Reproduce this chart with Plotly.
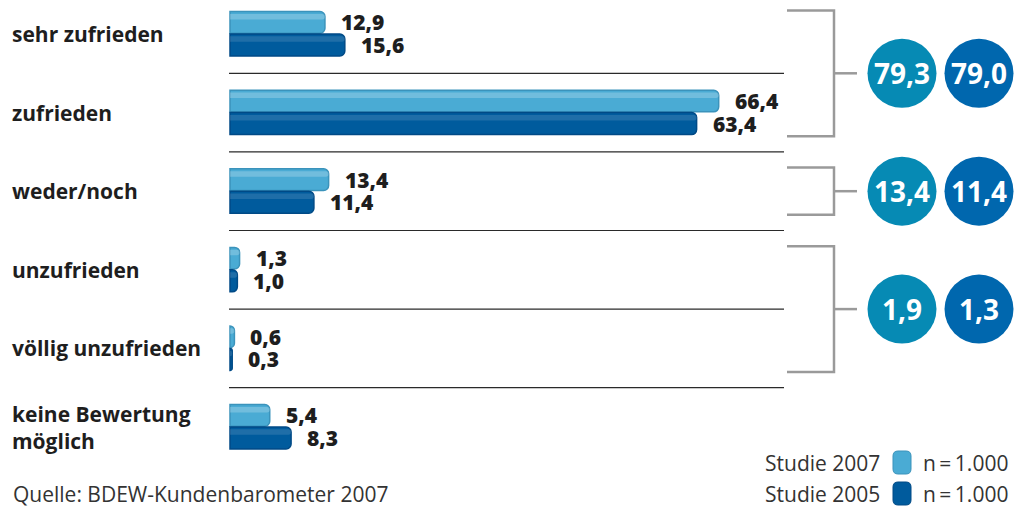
import plotly.graph_objects as go

# ---- data ----
categories = ["sehr zufrieden", "zufrieden", "weder/noch", "unzufrieden",
              "völlig unzufrieden", "keine Bewertung<br>möglich"]
studie_2007 = [12.9, 66.4, 13.4, 1.3, 0.6, 5.4]
studie_2005 = [15.6, 63.4, 11.4, 1.0, 0.3, 8.3]
group_rows = [(0, 1), (2, 2), (3, 4)]
group_2007 = [79.3, 13.4, 1.9]
group_2005 = [79.0, 11.4, 1.3]
legend_labels = ["Studie 2007", "Studie 2005"]
legend_n = ["n\u2009=\u20091.000", "n\u2009=\u20091.000"]
source_text = "Quelle: BDEW-Kundenbarometer 2007"

# ---- style ----
W, H = 1015, 508
FONT = "Open Sans"
C07, C05 = "#4aabd4", "#005b9d"
C07_EDGE, C05_EDGE = "#3b93bb", "#004a86"
CIRC07, CIRC05 = "#068ab4", "#0067ae"
TXT = "#1e1e1e"


def de(v):
    return f"{v:.1f}".replace(".", ",")


def px(x):
    return x / W


def py(y):
    return 1 - y / H


idx = list(range(len(categories)))
fig = go.Figure()

fig.add_trace(go.Bar(orientation="h", y=idx, x=studie_2007, width=0.275, offset=-0.285,
                     marker=dict(color=C07, cornerradius=5, line=dict(color=C07_EDGE, width=1.5)),
                     hoverinfo="skip", showlegend=False))
fig.add_trace(go.Bar(orientation="h", y=idx, x=studie_2005, width=0.28, offset=0.0,
                     marker=dict(color=C05, cornerradius=5, line=dict(color=C05_EDGE, width=1.5)),
                     hoverinfo="skip", showlegend=False))
# highlight bands for cylinder look
fig.add_trace(go.Bar(orientation="h", y=idx, x=studie_2007, width=0.07, offset=-0.255,
                     marker=dict(color="rgba(255,255,255,0.22)", cornerradius=3, line=dict(width=0)),
                     hoverinfo="skip", showlegend=False))
fig.add_trace(go.Bar(orientation="h", y=idx, x=studie_2005, width=0.07, offset=0.03,
                     marker=dict(color="rgba(255,255,255,0.12)", cornerradius=3, line=dict(width=0)),
                     hoverinfo="skip", showlegend=False))

ann = []
shapes = []

for i, (cat, a, b) in enumerate(zip(categories, studie_2007, studie_2005)):
    ann.append(dict(x=px(10), xref="paper", y=i, yref="y", text=cat, showarrow=False,
                    xanchor="left", yanchor="middle", align="left",
                    font=dict(family=FONT, size=21, color=TXT, weight="bold")))
    ann.append(dict(x=a, xref="x", y=i - 0.1475, yref="y", text=de(a), showarrow=False,
                    xanchor="left", yanchor="middle", xshift=14,
                    font=dict(family=FONT, size=21, color=TXT, weight=800)))
    ann.append(dict(x=b, xref="x", y=i + 0.14, yref="y", text=de(b), showarrow=False,
                    xanchor="left", yanchor="middle", xshift=14,
                    font=dict(family=FONT, size=21, color=TXT, weight=800)))

# separator lines
for i in range(len(categories) - 1):
    shapes.append(dict(type="line", xref="paper", yref="y", x0=px(229), x1=px(784),
                       y0=i + 0.5, y1=i + 0.5, line=dict(color="#2a2a2a", width=1.2)))

# brackets and circles
for (r0, r1), g7, g5 in zip(group_rows, group_2007, group_2005):
    top, bot = r0 - 0.3, r1 + 0.3
    mid = (r0 + r1) / 2
    shapes.append(dict(type="path", xref="paper", yref="y",
                       path=f"M {px(787)},{top} L {px(834)},{top} L {px(834)},{bot} L {px(787)},{bot}",
                       line=dict(color="#9a9a9a", width=2.5)))
    shapes.append(dict(type="line", xref="paper", yref="y", x0=px(834), x1=px(857),
                       y0=mid, y1=mid, line=dict(color="#9a9a9a", width=2.5)))
    for cx, val, col in ((902, g7, CIRC07), (979, g5, CIRC05)):
        shapes.append(dict(type="circle", xref="paper", yref="y", xsizemode="pixel",
                           ysizemode="pixel", xanchor=px(cx), yanchor=mid,
                           x0=-34.5, x1=34.5, y0=-34.5, y1=34.5,
                           fillcolor=col, line=dict(width=0)))
        ann.append(dict(x=px(cx), xref="paper", y=mid, yref="y", text=de(val), showarrow=False,
                        xanchor="center", yanchor="middle",
                        font=dict(family=FONT, size=28, color="white", weight="bold")))

# legend
for k, (lab, n, col, edge) in enumerate(zip(legend_labels, legend_n, (C07, C05), (C07_EDGE, C05_EDGE))):
    yc = 463 + k * 31
    ann.append(dict(x=px(882), xref="paper", y=py(yc), yref="paper", text=lab, showarrow=False,
                    xanchor="right", yanchor="middle",
                    font=dict(family=FONT, size=21, color="#333333")))
    ann.append(dict(x=px(921), xref="paper", y=py(yc), yref="paper", text=n, showarrow=False,
                    xanchor="left", yanchor="middle",
                    font=dict(family=FONT, size=21, color="#333333")))
    x0, x1, y0, y1, r = 893, 911, yc - 12, yc + 11, 5
    path = (f"M {px(x0 + r)},{py(y0)} L {px(x1 - r)},{py(y0)} "
            f"Q {px(x1)},{py(y0)} {px(x1)},{py(y0 + r)} L {px(x1)},{py(y1 - r)} "
            f"Q {px(x1)},{py(y1)} {px(x1 - r)},{py(y1)} L {px(x0 + r)},{py(y1)} "
            f"Q {px(x0)},{py(y1)} {px(x0)},{py(y1 - r)} L {px(x0)},{py(y0 + r)} "
            f"Q {px(x0)},{py(y0)} {px(x0 + r)},{py(y0)} Z")
    shapes.append(dict(type="path", xref="paper", yref="paper", path=path,
                       fillcolor=col, line=dict(color=edge, width=1)))

ann.append(dict(x=px(11), xref="paper", y=py(494), yref="paper", text=source_text, showarrow=False,
                xanchor="left", yanchor="middle",
                font=dict(family=FONT, size=21, color="#333333")))

scale = 7.36
zero_px = 230
fig.update_layout(
    width=W, height=H, margin=dict(l=0, r=0, t=0, b=0),
    paper_bgcolor="white", plot_bgcolor="white",
    barmode="overlay", showlegend=False,
    xaxis=dict(range=[-zero_px / scale, (W - zero_px) / scale], visible=False, fixedrange=True),
    yaxis=dict(range=[(H - 34) / 78.6, -34 / 78.6], visible=False, fixedrange=True),
    annotations=ann, shapes=shapes,
    font=dict(family=FONT),
)

fig.write_html("out.html", config={"displayModeBar": False},
               post_script="document.body.style.margin='0';document.body.style.overflow='hidden';")
